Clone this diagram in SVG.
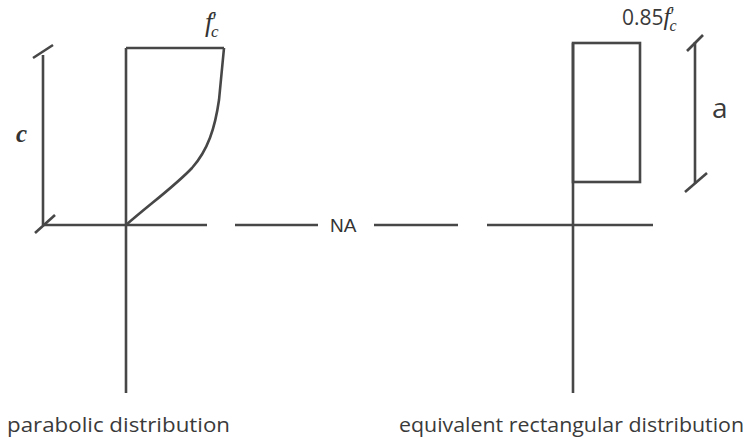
<svg xmlns="http://www.w3.org/2000/svg" width="751" height="438" viewBox="0 0 751 438">
<style>
.ln{stroke:#474747;stroke-width:2.6;fill:none;stroke-linecap:butt}
.lbl{font-family:"Open Sans","Liberation Sans",sans-serif;fill:#3a3a3a}
.math{font-family:"Liberation Serif","DejaVu Serif",serif;font-style:italic;fill:#333}
.pr{font-family:"Liberation Serif","DejaVu Serif",serif;fill:#333}
.na{font-family:"Liberation Sans",Arial,sans-serif;fill:#333;font-size:19px}
</style>
<rect width="751" height="438" fill="#fff"/>
<g id="parabolic">
<line class="ln" x1="126" y1="48" x2="126" y2="393"/>
<line class="ln" x1="126" y1="48" x2="224" y2="48"/>
<path class="ln" d="M126,225 C150,204 175,186 192,168 C208,150 215,128 219,100 L224,48"/>
<text class="math" x="205" y="31" font-size="27">f<tspan class="pr" font-style="normal" font-size="20" dx="0" dy="-3">′</tspan><tspan font-size="17" dx="-6" dy="9">c</tspan></text>
<text class="lbl" x="7" y="432" font-size="20.5" textLength="223" lengthAdjust="spacingAndGlyphs">parabolic distribution</text>
</g>
<g id="dim-c">
<line class="ln" x1="43" y1="55" x2="43" y2="225"/>
<line class="ln" x1="33" y1="58" x2="53" y2="45"/>
<line class="ln" x1="35" y1="233" x2="55" y2="215"/>
<text class="math" x="16" y="142" font-size="25" font-weight="bold">c</text>
</g>
<g id="rectangular">
<line class="ln" x1="573" y1="43" x2="573" y2="393"/>
<rect class="ln" x="573" y="43" width="67" height="139"/>
<text x="622" y="25"><tspan class="lbl" font-size="21">0.85</tspan><tspan class="math" font-size="25">f</tspan><tspan class="pr" font-size="18" dx="0" dy="-3">′</tspan><tspan class="math" font-size="16" dx="-5" dy="9">c</tspan></text>
<text class="lbl" x="399" y="432" font-size="20.5" textLength="345" lengthAdjust="spacingAndGlyphs">equivalent rectangular distribution</text>
</g>
<g id="dim-a">
<line class="ln" x1="695" y1="42" x2="695" y2="184"/>
<line class="ln" x1="687" y1="51" x2="703" y2="35"/>
<line class="ln" x1="685" y1="192" x2="707" y2="173"/>
<text class="lbl" x="712" y="118" font-size="28">a</text>
</g>
<g id="connectors">
<line class="ln" x1="43" y1="225" x2="207" y2="225"/>
<line class="ln" x1="235" y1="225" x2="318" y2="225"/>
<line class="ln" x1="374" y1="225" x2="458" y2="225"/>
<line class="ln" x1="487" y1="225" x2="653" y2="225"/>
<text class="na" x="330" y="232">NA</text>
</g>
</svg>
